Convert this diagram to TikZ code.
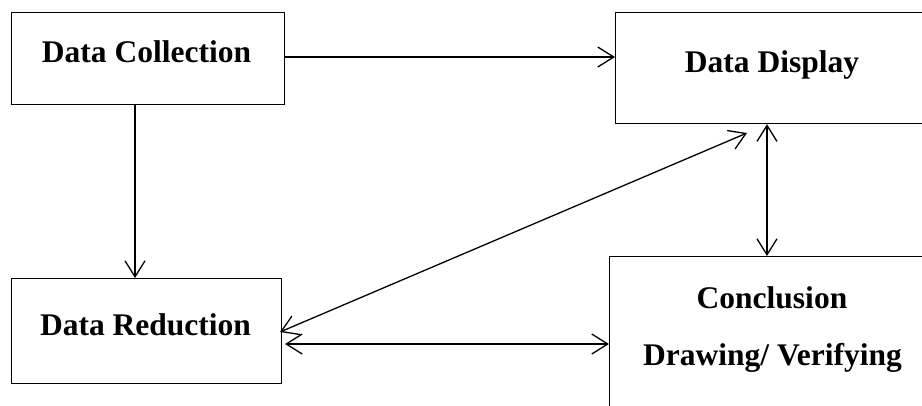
\documentclass[tikz,border=0pt]{standalone}
\usepackage{fontspec}
\setmainfont{Liberation Serif}
\usetikzlibrary{arrows.meta,calc}
\begin{document}
\begin{tikzpicture}[x=1pt,y=-1pt,
  box/.style={draw, line width=1.2pt, rectangle, inner sep=0pt, anchor=north west},
  lbl/.style={font=\fontsize{31.5}{38}\selectfont\bfseries, anchor=base, inner sep=0pt},
  conn/.style={line width=1.3pt, -{Straight Barb[length=16pt,width=20pt,line width=1.3pt]}},
  dconn/.style={line width=1.3pt, {Straight Barb[length=16pt,width=20pt,line width=1.3pt]}-{Straight Barb[length=16pt,width=20pt,line width=1.3pt]}}]
\useasboundingbox (0,0) rectangle (922,405);
\clip (0,0) rectangle (922,405);
\fill[white] (0,0) rectangle (922,405);
% boxes
\node[box, minimum width=273pt, minimum height=92pt] (dc) at (11,12) {};
\node[box, minimum width=330pt, minimum height=111pt] (dd) at (615,12) {};
\node[box, minimum width=270pt, minimum height=105pt] (dr) at (11,278) {};
\node[box, minimum width=340pt, minimum height=170pt] (cd) at (609,256) {};
% labels
\node[lbl] (tdc) at (146.5,62) {Data Collection};
\node[lbl] (tdd) at (772,72) {Data Display};
\node[lbl] (tdr) at (145.5,335) {Data Reduction};
\node[lbl] (tcd1) at (772,308) {Conclusion};
\node[lbl] (tcd2) at (772.5,365) {Drawing/ Verifying};
% helper coordinates
\coordinate (v1) at (135,0);
\coordinate (v2) at (767,0);
\coordinate (h1) at (0,57);
\coordinate (dgl) at (280,332);
\coordinate (dgr) at (747,133);
\coordinate (h5) at (285,344);
% connectors
\draw[conn] (h1 -| dc.east) -- (h1 -| dd.west);
\draw[conn] (v1 |- dc.south) -- (v1 |- dr.north);
\draw[dconn] (v2 |- dd.south) -- (v2 |- cd.north);
\draw[dconn] (dgl) -- (dgr);
\draw[dconn] (h5) -- (h5 -| cd.west);
\end{tikzpicture}
\end{document}
